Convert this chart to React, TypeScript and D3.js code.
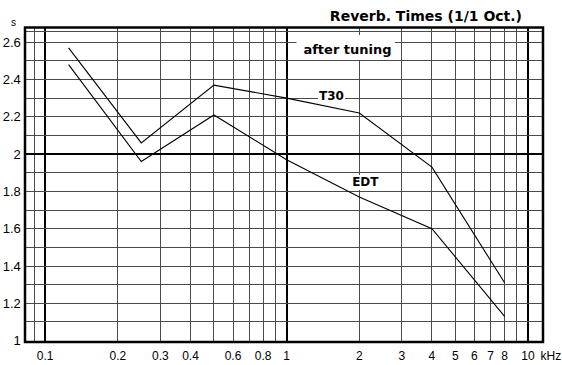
import React from "react";
import * as d3 from "d3";

const freqs = [0.125, 0.25, 0.5, 1, 2, 4, 8];
const t30 = [2.57, 2.06, 2.37, 2.3, 2.22, 1.93, 1.31];
const edt = [2.48, 1.96, 2.21, 1.97, 1.77, 1.6, 1.13];

const xGrid = [0.09, 0.1, 0.2, 0.3, 0.4, 0.5, 0.6, 0.7, 0.8, 0.9, 1, 2, 3, 4, 5, 6, 7, 8, 9, 10];
const xMajor = [0.1, 1, 10];
const xTickVals = [0.1, 0.2, 0.3, 0.4, 0.6, 0.8, 1, 2, 3, 4, 5, 6, 7, 8, 10];
const xTickLabels = ["0.1", "0.2", "0.3", "0.4", "0.6", "0.8", "1", "2", "3", "4", "5", "6", "7", "8", "10"];
const yGrid = [1.1, 1.2, 1.3, 1.4, 1.5, 1.6, 1.7, 1.8, 1.9, 2.0, 2.1, 2.2, 2.3, 2.4, 2.5, 2.6];
const yTickVals = [2.6, 2.4, 2.2, 2.0, 1.8, 1.6, 1.4, 1.2, 1.0];
const yTickLabels = ["2.6", "2.4", "2.2", "2", "1.8", "1.6", "1.4", "1.2", "1"];

const title = "Reverb. Times (1/1 Oct.)";
const note = "after tuning";
const seriesNames = ["T30", "EDT"];

const W = 562;
const H = 365;
const frame = { left: 25, right: 543, top: 27.5, bottom: 342 };

export default function App() {
  const x = d3.scaleLog().domain([0.1, 10]).range([45.2, 528]);
  const y = d3.scaleLinear().domain([1, 2.6]).range([340.6, 42.2]);
  const line = d3
    .line<number>()
    .x((_, i) => x(freqs[i]))
    .y((d) => y(d));

  const bold = "'DejaVu Sans', sans-serif";
  const reg = "'Liberation Sans', Arial, sans-serif";

  return (
    <svg
      width={W}
      height={H}
      style={{ position: "fixed", left: 0, top: 0, background: "#fff" }}
    >
      <rect x={0} y={0} width={W} height={H} fill="#fff" />
      {/* gridlines */}
      <g shapeRendering="crispEdges">
        {xGrid.map((v) => (
          <line
            key={"vx" + v}
            x1={x(v)}
            x2={x(v)}
            y1={frame.top}
            y2={frame.bottom}
            stroke={xMajor.includes(v) ? "#000" : "#4a4a4a"}
            strokeWidth={xMajor.includes(v) ? 2 : 1}
          />
        ))}
        {yGrid.map((v) => (
          <line
            key={"hy" + v}
            x1={frame.left}
            x2={frame.right}
            y1={y(v)}
            y2={y(v)}
            stroke={v === 2.0 ? "#000" : "#4a4a4a"}
            strokeWidth={v === 2.0 ? 2 : 1}
          />
        ))}
        <line x1={frame.left} x2={frame.right} y1={31.7} y2={31.7} stroke="#4a4a4a" strokeWidth={1} />
      </g>

      {/* curves */}
      <path d={line(t30) || ""} fill="none" stroke="#000" strokeWidth={1.1} />
      <path d={line(edt) || ""} fill="none" stroke="#000" strokeWidth={1.1} />

      {/* label boxes */}
      <rect x={296.5} y={35} width={98.5} height={25} fill="#fff" />
      <text x={347.5} y={54.3} textAnchor="middle" fontFamily={bold} fontWeight="bold" fontSize={13} fill="#000">
        {note}
      </text>
      <rect x={318} y={89} width={27} height={14} fill="#fff" />
      <text x={331.5} y={100.3} textAnchor="middle" fontFamily={bold} fontWeight="bold" fontSize={12} fill="#000">
        {seriesNames[0]}
      </text>
      <rect x={349} y={175} width={32} height={15} fill="#fff" />
      <text x={365.3} y={186} textAnchor="middle" fontFamily={bold} fontWeight="bold" fontSize={12} fill="#000">
        {seriesNames[1]}
      </text>

      {/* frame */}
      <rect
        x={frame.left}
        y={frame.top}
        width={frame.right - frame.left}
        height={frame.bottom - frame.top}
        fill="none"
        stroke="#000"
        strokeWidth={2.5}
      />

      {/* title */}
      <text x={522} y={20.5} textAnchor="end" fontFamily={bold} fontWeight="bold" fontSize={14} fill="#000">
        {title}
      </text>

      {/* y axis */}
      <text x={13.5} y={26} textAnchor="middle" fontFamily={reg} fontSize={10} fill="#000">
        s
      </text>
      {yTickVals.map((v, i) => (
        <text key={"yt" + v} x={20.8} y={y(v) + 4.6} textAnchor="end" fontFamily={reg} fontSize={13} fill="#000">
          {yTickLabels[i]}
        </text>
      ))}

      {/* x axis */}
      {xTickVals.map((v, i) => (
        <text key={"xt" + v} x={x(v)} y={359.5} textAnchor="middle" fontFamily={reg} fontSize={12} fill="#000">
          {xTickLabels[i]}
        </text>
      ))}
      <text x={540.5} y={359.5} fontFamily={reg} fontSize={12} fill="#000">
        kHz
      </text>
    </svg>
  );
}
